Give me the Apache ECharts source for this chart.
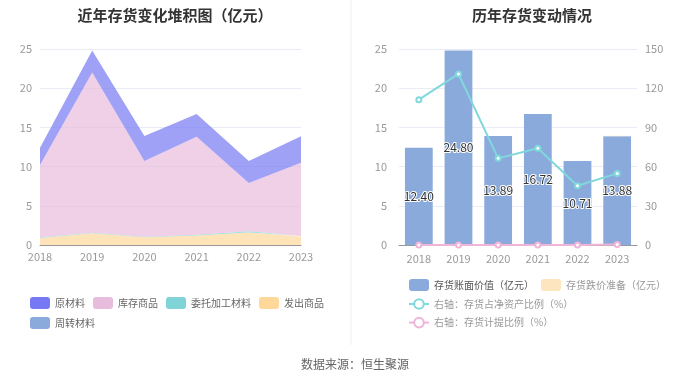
<!DOCTYPE html>
<html><head><meta charset="utf-8">
<script src="https://cdn.jsdelivr.net/npm/echarts@6/dist/echarts.min.js"></script>
<style>html,body{margin:0;padding:0;background:#fff}#c{width:700px;height:378px}</style>
</head><body><div id="c"></div>
<script>
const years = ['2018','2019','2020','2021','2022','2023'];
// left stacked area (亿元)
const rawMaterial = [2.20, 2.80, 3.19, 2.92, 2.81, 3.38];      // 原材料
const stockGoods = [9.20, 20.45, 9.65, 12.50, 6.15, 9.35];     // 库存商品
const consignMaterial = [0.10, 0.05, 0.05, 0.10, 0.15, 0.05];  // 委托加工材料
const shippedGoods = [0.90, 1.50, 1.00, 1.20, 1.60, 1.10];     // 发出商品
const turnoverMaterial = [0.00, 0.00, 0.00, 0.00, 0.00, 0.00]; // 周转材料
// right chart
const bookValue = [12.40, 24.80, 13.89, 16.72, 10.71, 13.88];  // 存货账面价值（亿元）
const impairment = [0.00, 0.00, 0.00, 0.00, 0.00, 0.05];       // 存货跌价准备（亿元）
const ratioNetAsset = [111.2, 130.9, 66.3, 74.0, 45.4, 54.8];  // 存货占净资产比例（%）
const provisionRatio = [0.0, 0.0, 0.0, 0.0, 0.0, 0.3];         // 存货计提比例（%）

const FONT = '"Noto Sans CJK SC", "Noto Sans", sans-serif';
const chart = echarts.init(document.getElementById('c'));
const areaSeries = (name, data, color) => ({
  name, type: 'line', stack: 'a', data, xAxisIndex: 0, yAxisIndex: 0,
  showSymbol: false, symbol: 'none', lineStyle: {width: 0, color},
  itemStyle: {color}, areaStyle: {color, opacity: 0.7}
});
chart.setOption({
  animation: false,
  textStyle: {fontFamily: FONT},
  title: [
    {text: '近年存货变化堆积图（亿元）', left: 170, top: 3, textAlign: 'center',
     textStyle: {fontSize: 15, fontWeight: 'bold', color: '#333', fontFamily: FONT}},
    {text: '历年存货变动情况', left: 527, top: 3, textAlign: 'center',
     textStyle: {fontSize: 15, fontWeight: 'bold', color: '#333', fontFamily: FONT}},
    {text: '数据来源：恒生聚源', left: 350, top: 353, textAlign: 'center',
     textStyle: {fontSize: 12, fontWeight: 'normal', color: '#666', fontFamily: FONT}}
  ],
  graphic: [{type: 'line', shape: {x1: 351, y1: 0, x2: 351, y2: 345}, style: {stroke: '#f0f0f0', lineWidth: 1}}],
  legend: [
    {left: 25, top: 292, width: 310, itemWidth: 20, itemHeight: 12, itemGap: 8,
     icon: 'roundRect', textStyle: {color: '#666', fontSize: 10, fontFamily: FONT},
     data: ['原材料','库存商品','委托加工材料','发出商品','周转材料']},
    {left: 403, top: 274, width: 285, itemWidth: 20, itemHeight: 12, itemGap: 7, orient: 'horizontal',
     textStyle: {color: '#999', fontSize: 10, fontFamily: FONT},
     data: [{name: '存货账面价值（亿元）', icon: 'roundRect', textStyle: {color: '#555'}},
            {name: '存货跌价准备（亿元）', icon: 'roundRect'},
            {name: '右轴：存货占净资产比例（%）'},
            {name: '右轴：存货计提比例（%）'}]}
  ],
  grid: [
    {left: 40, right: 399, top: 49, bottom: 133},
    {left: 399, right: 63, top: 49, bottom: 133}
  ],
  xAxis: [
    {type: 'category', gridIndex: 0, data: years, boundaryGap: false,
     axisLine: {lineStyle: {color: '#999'}}, axisTick: {show: false},
     axisLabel: {color: '#999', fontSize: 11, margin: 6}},
    {type: 'category', gridIndex: 1, data: years,
     axisLine: {lineStyle: {color: '#999'}}, axisTick: {show: false},
     axisLabel: {color: '#999', fontSize: 11, margin: 8}}
  ],
  yAxis: [
    {type: 'value', gridIndex: 0, min: 0, max: 25, interval: 5,
     axisLabel: {color: '#999', fontSize: 11}, axisLine: {show: false}, axisTick: {show: false},
     splitLine: {lineStyle: {color: '#e9ebf6'}}},
    {type: 'value', gridIndex: 1, min: 0, max: 25, interval: 5,
     axisLabel: {color: '#999', fontSize: 11, margin: 12}, axisLine: {show: false}, axisTick: {show: false},
     splitLine: {lineStyle: {color: '#e9ebf6'}}},
    {type: 'value', gridIndex: 1, min: 0, max: 150, interval: 30, position: 'right',
     axisLabel: {color: '#999', fontSize: 11, margin: 8}, axisLine: {show: false}, axisTick: {show: false},
     splitLine: {show: false}}
  ],
  series: [
    areaSeries('周转材料', turnoverMaterial, '#8aaadc'),
    areaSeries('发出商品', shippedGoods, '#fdd89a'),
    areaSeries('委托加工材料', consignMaterial, '#80d4d8'),
    areaSeries('库存商品', stockGoods, '#e8bcdc'),
    areaSeries('原材料', rawMaterial, '#7679f3'),
    {name: '存货账面价值（亿元）', type: 'bar', stack: 'b', xAxisIndex: 1, yAxisIndex: 1,
     data: bookValue, barWidth: '70%', itemStyle: {color: '#8aaadc'},
     label: {show: true, position: 'inside', color: '#333', fontSize: 12,
             textBorderColor: '#fff', textBorderWidth: 2,
             formatter: p => p.value.toFixed(2)}},
    {name: '存货跌价准备（亿元）', type: 'bar', stack: 'b', xAxisIndex: 1, yAxisIndex: 1,
     data: impairment, barWidth: '70%', itemStyle: {color: '#fde5c0'}},
    {name: '右轴：存货占净资产比例（%）', type: 'line', xAxisIndex: 1, yAxisIndex: 2,
     data: ratioNetAsset, symbol: 'emptyCircle', symbolSize: 5,
     lineStyle: {color: '#80d8dc', width: 2}, itemStyle: {color: '#80d8dc'}},
    {name: '右轴：存货计提比例（%）', type: 'line', xAxisIndex: 1, yAxisIndex: 2,
     data: provisionRatio, symbol: 'emptyCircle', symbolSize: 5,
     lineStyle: {color: '#f0b4d8', width: 2}, itemStyle: {color: '#f0b4d8'}}
  ]
});
</script></body></html>
